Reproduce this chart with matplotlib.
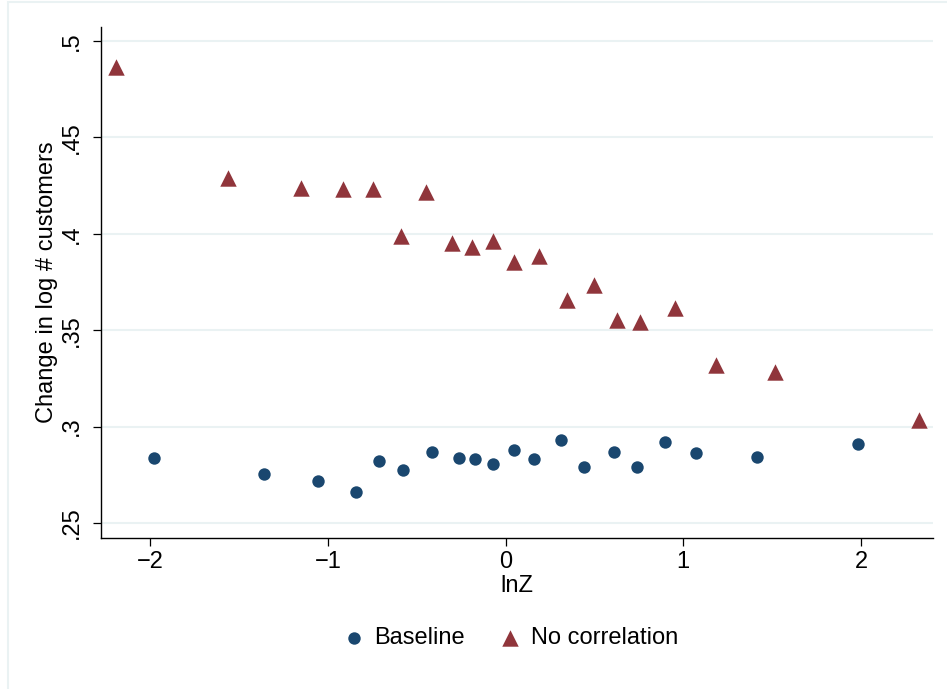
import matplotlib
matplotlib.use("Agg")
import matplotlib.pyplot as plt
from matplotlib.patches import Rectangle

plt.rcParams['font.family'] = ['Liberation Sans', 'DejaVu Sans']

# Baseline series (circles)
base_x = [-1.979, -1.357, -1.053, -0.840, -0.713, -0.575, -0.412, -0.262, -0.172, -0.068,
          0.049, 0.161, 0.313, 0.444, 0.608, 0.737, 0.895, 1.073, 1.413, 1.983]
base_y = [0.2838, 0.2756, 0.2718, 0.2661, 0.2820, 0.2775, 0.2867, 0.2836, 0.2832, 0.2808,
          0.2876, 0.2832, 0.2933, 0.2791, 0.2867, 0.2791, 0.2919, 0.2864, 0.2841, 0.2910]

# No correlation series (triangles)
nocorr_x = [-2.191, -1.561, -1.150, -0.914, -0.745, -0.588, -0.447, -0.300, -0.188, -0.073,
            0.045, 0.191, 0.346, 0.497, 0.626, 0.756, 0.951, 1.185, 1.517, 2.324]
nocorr_y = [0.4865, 0.4292, 0.4238, 0.4230, 0.4230, 0.3989, 0.4217, 0.3952, 0.3932, 0.3963,
            0.3856, 0.3885, 0.3657, 0.3737, 0.3553, 0.3540, 0.3615, 0.3322, 0.3283, 0.3036]

x_ticks = [-2, -1, 0, 1, 2]
x_labels = ["\u22122", "\u22121", "0", "1", "2"]
y_ticks = [0.25, 0.3, 0.35, 0.4, 0.45, 0.5]
y_labels = [".25", ".3", ".35", ".4", ".45", ".5"]

navy = "#1a476f"
maroon = "#90353b"
grid_col = "#eaf2f3"
fs = 17

fig = plt.figure(figsize=(9.47, 6.89), dpi=100)
fig.patches.append(Rectangle((8 / 947, -0.01), 1.0, 1 - 2 / 689 + 0.01, transform=fig.transFigure,
                             fill=False, edgecolor=grid_col, linewidth=1.5))
ax = fig.add_axes([101 / 947, 1 - 538 / 689, (933 - 101) / 947, (538 - 27) / 689])

ax.scatter(base_x, base_y, marker="o", s=80, color=navy, linewidths=0, label="Baseline", zorder=3)
ax.scatter(nocorr_x, nocorr_y, marker="^", s=140, color=maroon, linewidths=0,
           label="No correlation", zorder=3)

ax.set_xlim(-2.276, 2.405)
ax.set_ylim(0.2422, 0.5073)

ax.set_xticks(x_ticks)
ax.set_xticklabels(x_labels)
ax.set_yticks(y_ticks)
ax.set_yticklabels(y_labels, rotation=90, va="center")

ax.grid(True, axis="y", color=grid_col, linewidth=1.5)
ax.set_axisbelow(True)
for s in ["top", "right"]:
    ax.spines[s].set_visible(False)
for s in ["left", "bottom"]:
    ax.spines[s].set_linewidth(1.0)
    ax.spines[s].set_color("black")

ax.tick_params(axis="x", length=6, width=0.9, pad=3, labelsize=fs)
ax.tick_params(axis="y", length=6, width=0.9, pad=7, labelsize=fs)

ax.set_xlabel("lnZ", fontsize=fs, labelpad=2)
ax.set_ylabel("Change in log # customers", fontsize=fs)
ax.yaxis.set_label_coords((58 - 101) / 832, 0.5)

fig.legend(loc="center", bbox_to_anchor=(510 / 947, 1 - 638 / 689), ncol=2, frameon=False,
           fontsize=fs, handlelength=1.0, handletextpad=0.39, columnspacing=1.4,
           scatterpoints=1)

fig.savefig("out.png", dpi=100)
